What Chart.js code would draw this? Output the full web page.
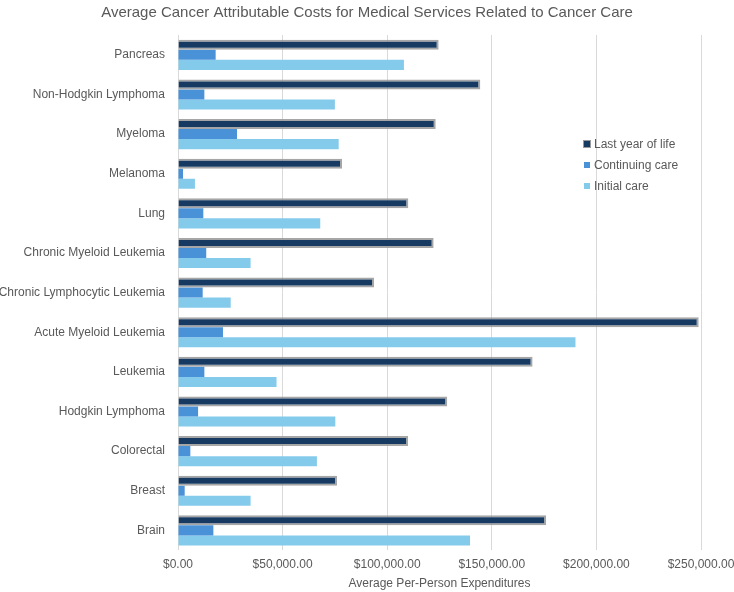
<!DOCTYPE html>
<html>
<head>
<meta charset="utf-8">
<script src="https://cdn.jsdelivr.net/npm/chart.js@4.4.1/dist/chart.umd.min.js"></script>
<style>
  html, body { margin: 0; padding: 0; background: #ffffff; overflow: hidden; }
  #wrap { width: 734px; height: 592px; position: relative; }
  canvas { display: block; }
</style>
</head>
<body>
<div id="wrap"><canvas id="c"></canvas></div>
<script>
const categories = [
  "Pancreas", "Non-Hodgkin Lymphoma", "Myeloma", "Melanoma", "Lung",
  "Chronic Myeloid Leukemia", "Chronic Lymphocytic Leukemia", "Acute Myeloid Leukemia",
  "Leukemia", "Hodgkin Lymphoma", "Colorectal", "Breast", "Brain"
];
const lastYearOfLife = [124600, 144500, 123200, 78400, 110100, 122200, 93700, 248900, 169500, 128700, 110000, 76000, 176000];
const continuingCare = [18000, 12600, 28200, 2400, 12100, 13500, 11800, 21500, 12600, 9600, 5900, 3200, 16900];
const initialCare = [108000, 75000, 76800, 8100, 68000, 34700, 25200, 190000, 47100, 75200, 66400, 34700, 139600];
const xTicks = [0, 50000, 100000, 150000, 200000, 250000];
const seriesNames = ["Last year of life", "Continuing care", "Initial care"];
const chartTitle = "Average Cancer Attributable Costs for Medical Services Related to Cancer Care";
const xAxisTitle = "Average Per-Person Expenditures";

const colors = ["#173a63", "#4a92d8", "#84cbeb"];
const textColor = "#595959";
const fontFam = "'Liberation Sans', Arial, sans-serif";

const legendPlugin = {
  id: 'insideLegend',
  afterDraw(chart) {
    const ctx = chart.ctx;
    ctx.save();
    ctx.font = "12px " + fontFam;
    ctx.textBaseline = "middle";
    ctx.textAlign = "left";
    const x0 = 584, y0 = 144, dy = 21;
    chart.data.datasets.forEach((ds, i) => {
      const y = y0 + i * dy;
      if (i === 0) {
        ctx.fillStyle = "#9a9a9a";
        ctx.fillRect(x0 - 1, y - 4, 8, 8);
      }
      ctx.fillStyle = ds.backgroundColor;
      ctx.fillRect(x0, y - 3, 6, 6);
      ctx.fillStyle = textColor;
      ctx.fillText(ds.label, x0 + 10, y + 0.5);
    });
    ctx.restore();
  }
};

const fmt = v => "$" + Number(v).toLocaleString("en-US", {minimumFractionDigits: 2, maximumFractionDigits: 2});

new Chart(document.getElementById('c'), {
  type: 'bar',
  data: {
    labels: categories,
    datasets: [
      { label: seriesNames[0], data: lastYearOfLife, backgroundColor: colors[0], borderColor: "rgba(150,150,150,0.85)", borderWidth: 2 },
      { label: seriesNames[1], data: continuingCare, backgroundColor: colors[1], borderWidth: 0 },
      { label: seriesNames[2], data: initialCare, backgroundColor: colors[2], borderWidth: 0 }
    ]
  },
  options: {
    indexAxis: 'y',
    responsive: true,
    maintainAspectRatio: false,
    animation: false,
    layout: { padding: { left: 0, right: 0, top: 0, bottom: 0 } },
    datasets: { bar: { categoryPercentage: 0.76, barPercentage: 1.0 } },
    plugins: {
      legend: { display: false },
      tooltip: { enabled: false },
      title: {
        display: true,
        text: chartTitle,
        color: textColor,
        font: { family: fontFam, size: 15, weight: 'normal' },
        padding: { top: 4, bottom: 13 }
      }
    },
    scales: {
      x: {
        min: 0,
        max: 250000,
        afterBuildTicks: (scale) => { scale.ticks = xTicks.map(v => ({ value: v })); },
        afterFit: (scale) => { scale.paddingRight = 33; },
        ticks: { color: textColor, font: { family: fontFam, size: 12 }, padding: 7, callback: (v) => fmt(v), maxRotation: 0 },
        grid: { color: "#d9d9d9", lineWidth: 1, drawTicks: false },
        border: { display: false },
        title: { display: true, text: xAxisTitle, color: textColor, font: { family: fontFam, size: 12 }, padding: { top: -2, bottom: 1 } }
      },
      y: {
        ticks: { color: textColor, font: { family: fontFam, size: 12 }, padding: 13 },
        grid: { display: false, drawTicks: false },
        border: { display: false },
        afterFit: (scale) => { scale.width = 178; }
      }
    }
  },
  plugins: [legendPlugin]
});
</script>
</body>
</html>
